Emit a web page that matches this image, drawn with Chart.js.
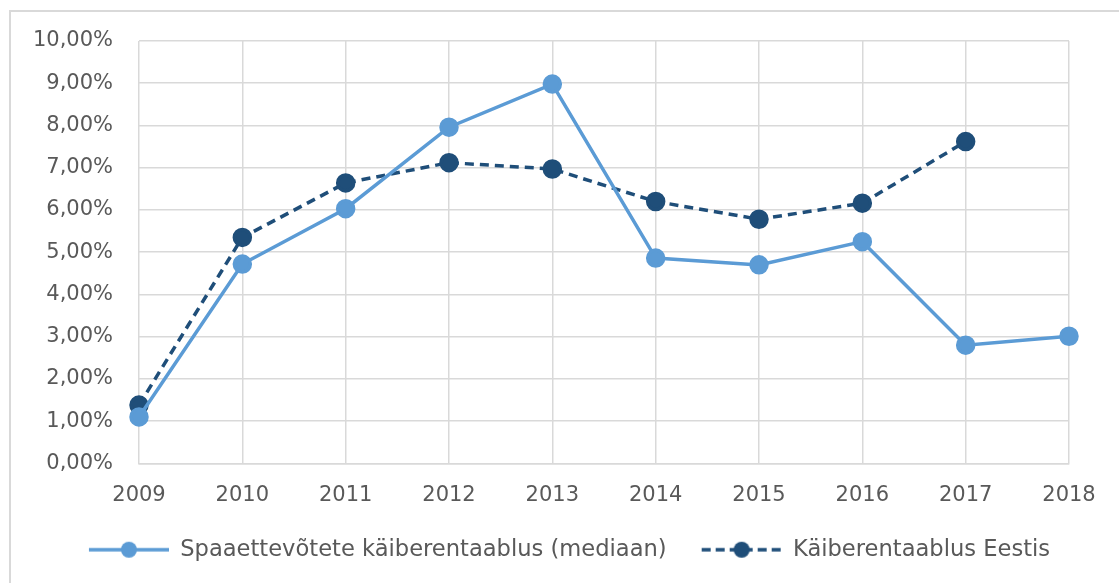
<!DOCTYPE html>
<html>
<head>
<meta charset="utf-8">
<script src="https://cdn.jsdelivr.net/npm/chart.js@4.4.1/dist/chart.umd.min.js"></script>
<style>
  html, body { margin: 0; padding: 0; background: #fff; overflow: hidden; }
  #wrap { position: absolute; left: 0; top: 0; width: 1119px; height: 583px; }
</style>
</head>
<body>
<div id="wrap"><canvas id="chart"></canvas></div>
<script>
// categories and values (percent)
const years = ['2009', '2010', '2011', '2012', '2013', '2014', '2015', '2016', '2017', '2018'];
const spaMedian = [1.10, 4.72, 6.03, 7.96, 8.98, 4.86, 4.70, 5.25, 2.80, 3.01];
const estonia = [1.38, 5.35, 6.64, 7.12, 6.97, 6.20, 5.78, 6.16, 7.62, null];
const seriesNames = ['Spaaettevõtete käiberentaablus (mediaan)', 'Käiberentaablus Eestis'];

const lightBlue = '#5b9bd5';
const darkBlue = '#1f4e79';
const textColor = '#595959';
const fontFamily = 'DejaVu Sans';

// legend symbol: line with a dot in the middle (blank strip on the left = gap between items)
function legendIcon(color, dashed) {
    const c = document.createElement('canvas');
    c.width = 100; c.height = 20;
    const ctx = c.getContext('2d');
    ctx.strokeStyle = color;
    ctx.lineWidth = 3.5;
    if (dashed) ctx.setLineDash([9, 5]);
    ctx.beginPath();
    ctx.moveTo(20, 10);
    ctx.lineTo(100, 10);
    ctx.stroke();
    ctx.setLineDash([]);
    ctx.fillStyle = color;
    ctx.beginPath();
    ctx.arc(60, 10, 8, 0, Math.PI * 2);
    ctx.fill();
    return c;
}
const icons = [legendIcon(lightBlue, false), legendIcon(darkBlue, true)];

// outer chart frame (only top and left edges are inside the picture)
const framePlugin = {
    id: 'frame',
    beforeDraw(chart) {
        const ctx = chart.ctx;
        ctx.save();
        ctx.strokeStyle = '#d9d9d9';
        ctx.lineWidth = 2;
        ctx.beginPath();
        ctx.moveTo(10, chart.height);
        ctx.lineTo(10, 11);
        ctx.lineTo(chart.width, 11);
        ctx.stroke();
        ctx.restore();
    }
};

new Chart(document.getElementById('chart'), {
    type: 'line',
    data: {
        labels: years,
        datasets: [{
            label: seriesNames[0],
            data: spaMedian,
            borderColor: lightBlue,
            backgroundColor: lightBlue,
            borderWidth: 3.5,
            pointRadius: 8,
            pointHoverRadius: 8,
            tension: 0
        }, {
            label: seriesNames[1],
            data: estonia,
            borderColor: darkBlue,
            backgroundColor: darkBlue,
            borderWidth: 3.5,
            borderDash: [9, 6],
            pointRadius: 8,
            pointHoverRadius: 8,
            tension: 0
        }]
    },
    plugins: [framePlugin],
    options: {
        responsive: true,
        maintainAspectRatio: false,
        animation: false,
        layout: { padding: { left: 0, top: 41, right: 0, bottom: 12 } },
        scales: {
            x: {
                offset: false,
                afterFit: (scale) => { scale.height = 60; },
                grid: { color: '#d9d9d9', lineWidth: 1.5, drawTicks: false },
                border: { color: '#d9d9d9', width: 1.5 },
                ticks: { color: textColor, font: { family: fontFamily, size: 21 }, padding: 20, maxRotation: 0 }
            },
            y: {
                min: 0,
                max: 10,
                afterFit: (scale) => { scale.width = 139; },
                grid: { color: '#d9d9d9', lineWidth: 1.5, drawTicks: false },
                border: { display: false },
                ticks: {
                    stepSize: 1,
                    color: textColor,
                    font: { family: fontFamily, size: 21 },
                    padding: 26,
                    callback: (v) => v.toFixed(2).replace('.', ',') + '%'
                }
            },
            // empty right-hand strip so the plot ends where the original does
            yRight: {
                position: 'right',
                afterFit: (scale) => { scale.width = 50; },
                grid: { display: false },
                border: { display: false },
                ticks: { display: false }
            }
        },
        plugins: {
            legend: {
                position: 'bottom',
                labels: {
                    usePointStyle: true,
                    pointStyleWidth: 100,
                    color: textColor,
                    font: { family: fontFamily, size: 22.6 },
                    padding: 15,
                    generateLabels: (chart) => {
                        const items = Chart.defaults.plugins.legend.labels.generateLabels(chart);
                        items.forEach((it, i) => { it.pointStyle = icons[i]; });
                        return items;
                    }
                }
            },
            tooltip: { enabled: false }
        }
    }
});
</script>
</body>
</html>
